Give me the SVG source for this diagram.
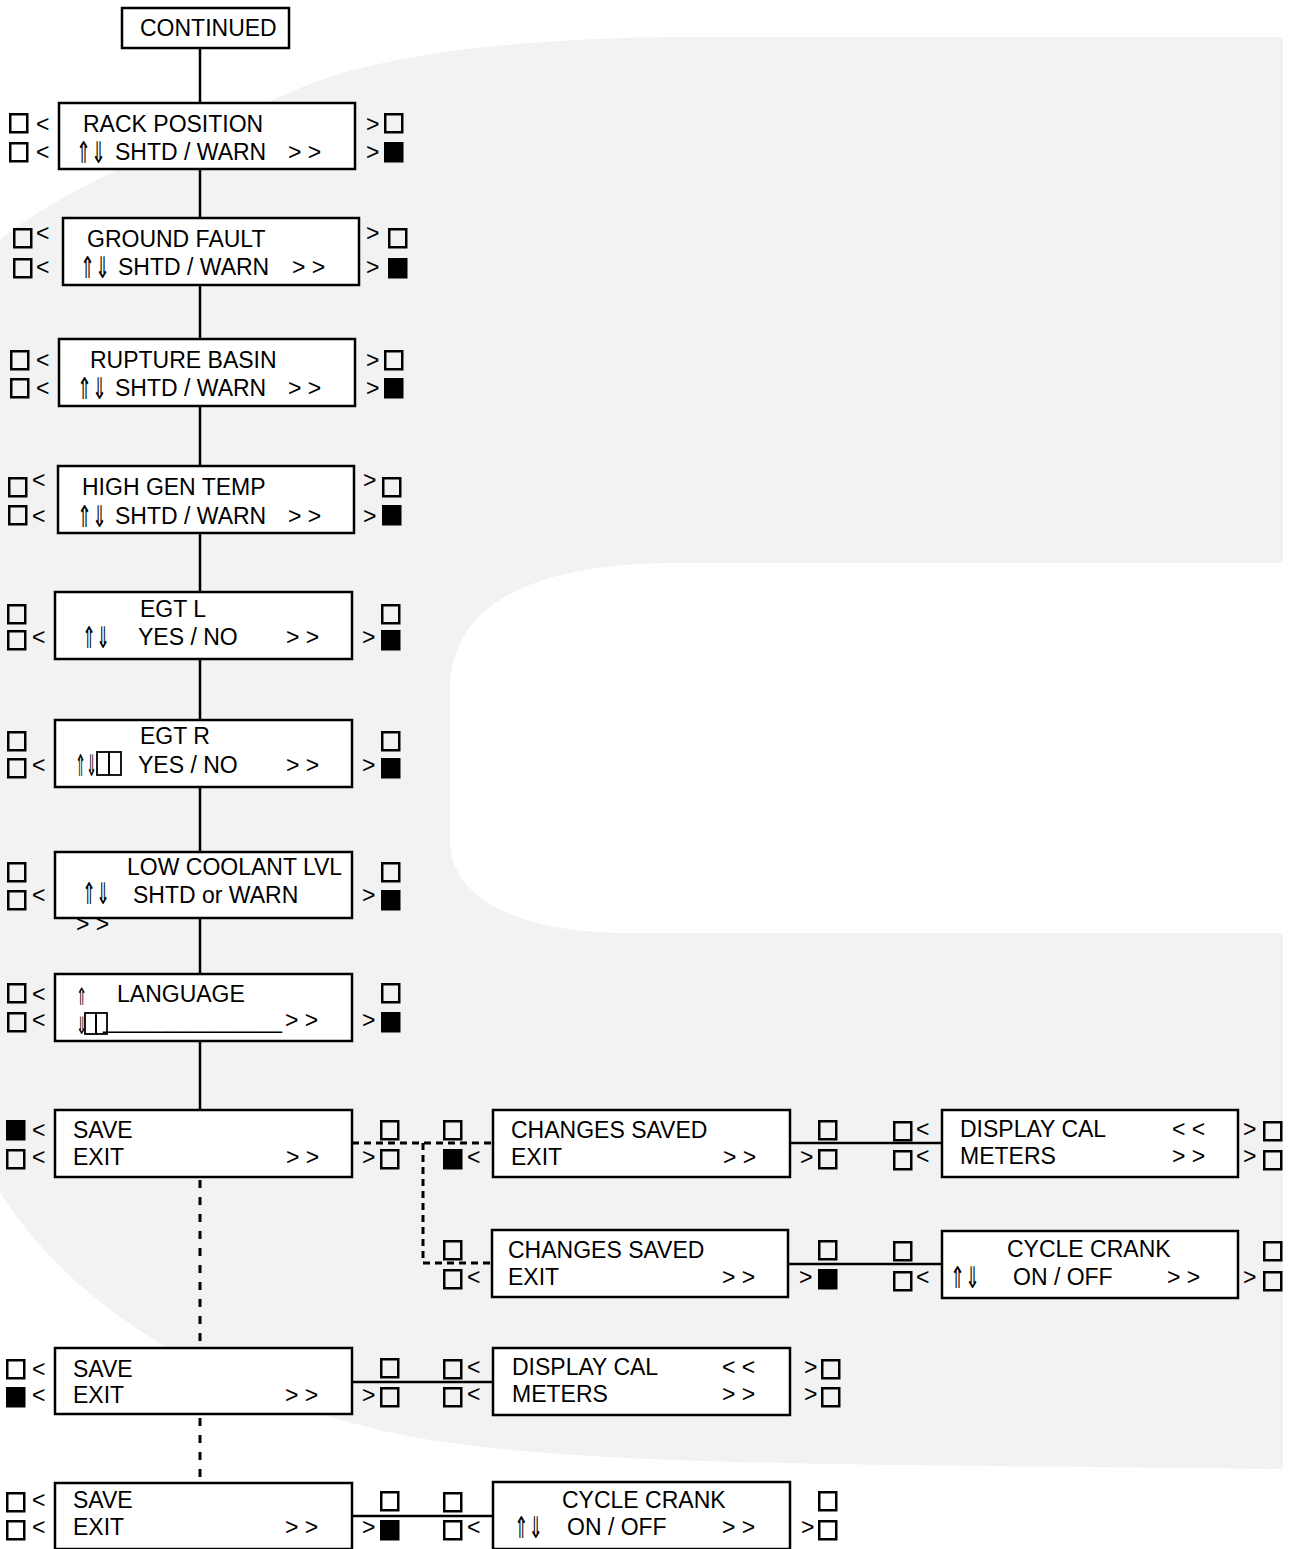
<svg xmlns="http://www.w3.org/2000/svg" xmlns:xlink="http://www.w3.org/1999/xlink" width="1300" height="1549" viewBox="0 0 1300 1549">
<style>
.bx{fill:#fff;stroke:#000;stroke-width:2.5}
.t{font-family:"Liberation Sans",Arial,sans-serif;font-size:23px;fill:#000}
.ar{font-family:"DejaVu Sans","Liberation Sans",sans-serif;font-size:30px;fill:#000}
.o{fill:none;stroke:#000;stroke-width:2.5}
.f{fill:#000;stroke:#000;stroke-width:2.5}
.tf{fill:none;stroke:#000;stroke-width:1.8}
.c{stroke:#000;stroke-width:2.5;fill:none}
.d{stroke-dasharray:8 9;stroke-width:3}
.dt{stroke-dasharray:7 5;stroke-width:3}
</style>
<defs>
<rect id="sq" x="1.25" y="1.25" width="17" height="18"/>
</defs>
<rect width="1300" height="1549" fill="#fff"/>
<g id="watermark">
<path d="M1283,37 L667,37 C500,40 380,55 300,88 C180,140 60,190 0,240 L0,1192 C60,1290 200,1400 430,1440 C600,1465 800,1464 1283,1469 Z" fill="#f2f2f2"/>
<path d="M1300,563 L667,563 C540,565 450,600 450,690 L450,840 C450,900 520,933 630,933 L1300,933 Z" fill="#fff"/>
</g>
<g id="connectors">
<line class="c" x1="200" y1="48" x2="200" y2="1110"/>
<line class="c d" x1="200" y1="1180" x2="200" y2="1348"/>
<line class="c d" x1="200" y1="1418" x2="200" y2="1483"/>
<polyline class="c dt" points="352,1143 493,1143"/>
<polyline class="c dt" points="423,1143 423,1263 492,1263"/>
<line class="c" x1="790" y1="1143" x2="942" y2="1143"/>
<line class="c" x1="788" y1="1264" x2="942" y2="1264"/>
<line class="c" x1="352" y1="1382" x2="493" y2="1382"/>
<line class="c" x1="352" y1="1516" x2="493" y2="1516"/>
</g>
<g id="continued">
<rect class="bx" x="122" y="8" width="167" height="40"/>
<text class="t" x="140" y="36">CONTINUED</text>
</g>
<g id="rack-position">
<rect class="bx" x="59" y="103" width="296" height="66"/>
<text class="t" x="83" y="132">RACK POSITION</text>
<text class="ar" transform="translate(76,163) scale(0.6,1)">⇑⇓</text>
<text class="t" x="115" y="160">SHTD / WARN</text>
<text class="t" x="288" y="160">&gt; &gt;</text>
<use href="#sq" x="9" y="113" class="o"/><text class="t" x="36" y="132">&lt;</text>
<use href="#sq" x="9" y="142" class="o"/><text class="t" x="36" y="160">&lt;</text>
<text class="t" x="366" y="132">&gt;</text><use href="#sq" x="384" y="113" class="o"/>
<text class="t" x="366" y="160">&gt;</text><use href="#sq" x="384" y="142" class="f"/>
</g>
<g id="ground-fault">
<rect class="bx" x="63" y="218" width="296" height="67"/>
<text class="t" x="87" y="247">GROUND FAULT</text>
<text class="ar" transform="translate(80,278) scale(0.6,1)">⇑⇓</text>
<text class="t" x="118" y="275">SHTD / WARN</text>
<text class="t" x="292" y="275">&gt; &gt;</text>
<use href="#sq" x="13" y="228" class="o"/><text class="t" x="36" y="241">&lt;</text>
<use href="#sq" x="13" y="258" class="o"/><text class="t" x="36" y="275">&lt;</text>
<text class="t" x="366" y="241">&gt;</text><use href="#sq" x="388" y="228" class="o"/>
<text class="t" x="366" y="275">&gt;</text><use href="#sq" x="388" y="258" class="f"/>
</g>
<g id="rupture-basin">
<rect class="bx" x="59" y="339" width="296" height="67"/>
<text class="t" x="90" y="368">RUPTURE BASIN</text>
<text class="ar" transform="translate(77,399) scale(0.6,1)">⇑⇓</text>
<text class="t" x="115" y="396">SHTD / WARN</text>
<text class="t" x="288" y="396">&gt; &gt;</text>
<use href="#sq" x="10" y="350" class="o"/><text class="t" x="36" y="368">&lt;</text>
<use href="#sq" x="10" y="378" class="o"/><text class="t" x="36" y="396">&lt;</text>
<text class="t" x="366" y="368">&gt;</text><use href="#sq" x="384" y="350" class="o"/>
<text class="t" x="366" y="396">&gt;</text><use href="#sq" x="384" y="378" class="f"/>
</g>
<g id="high-gen-temp">
<rect class="bx" x="58" y="466" width="296" height="67"/>
<text class="t" x="82" y="495">HIGH GEN TEMP</text>
<text class="ar" transform="translate(77,527) scale(0.6,1)">⇑⇓</text>
<text class="t" x="115" y="524">SHTD / WARN</text>
<text class="t" x="288" y="524">&gt; &gt;</text>
<use href="#sq" x="8" y="477" class="o"/><text class="t" x="32" y="488">&lt;</text>
<use href="#sq" x="8" y="505" class="o"/><text class="t" x="32" y="524">&lt;</text>
<text class="t" x="363" y="488">&gt;</text><use href="#sq" x="382" y="477" class="o"/>
<text class="t" x="363" y="524">&gt;</text><use href="#sq" x="382" y="505" class="f"/>
</g>
<g id="egt-l">
<rect class="bx" x="55" y="592" width="297" height="67"/>
<text class="t" x="140" y="617">EGT L</text>
<text class="ar" transform="translate(82,648) scale(0.56,1)">⇑⇓</text>
<text class="t" x="138" y="645">YES / NO</text>
<text class="t" x="286" y="645">&gt; &gt;</text>
<use href="#sq" x="7" y="604" class="o"/>
<use href="#sq" x="7" y="630" class="o"/><text class="t" x="32" y="645">&lt;</text>
<use href="#sq" x="381" y="604" class="o"/>
<text class="t" x="362" y="645">&gt;</text><use href="#sq" x="381" y="630" class="f"/>
</g>
<g id="egt-r">
<rect class="bx" x="55" y="720" width="297" height="67"/>
<text class="t" x="140" y="744">EGT R</text>
<text class="ar" transform="translate(75,776) scale(0.44,1)">⇑⇓</text>
<rect class="tf" x="97" y="752" width="12" height="23"/>
<rect class="tf" x="109" y="752" width="12" height="23"/>
<text class="t" x="138" y="773">YES / NO</text>
<text class="t" x="286" y="773">&gt; &gt;</text>
<use href="#sq" x="7" y="731" class="o"/>
<use href="#sq" x="7" y="758" class="o"/><text class="t" x="32" y="773">&lt;</text>
<use href="#sq" x="381" y="731" class="o"/>
<text class="t" x="362" y="773">&gt;</text><use href="#sq" x="381" y="758" class="f"/>
</g>
<g id="low-coolant-lvl">
<rect class="bx" x="55" y="852" width="297" height="66"/>
<text class="t" x="127" y="875">LOW COOLANT LVL</text>
<text class="ar" transform="translate(82,904) scale(0.56,1)">⇑⇓</text>
<text class="t" x="133" y="903">SHTD or WARN</text>
<text class="t" x="76" y="932">&gt; &gt;</text>
<use href="#sq" x="7" y="862" class="o"/>
<use href="#sq" x="7" y="890" class="o"/><text class="t" x="32" y="903">&lt;</text>
<use href="#sq" x="381" y="862" class="o"/>
<text class="t" x="362" y="903">&gt;</text><use href="#sq" x="381" y="890" class="f"/>
</g>
<g id="language">
<rect class="bx" x="55" y="974" width="297" height="67"/>
<text class="ar" style="font-size:24px" transform="translate(76,0) scale(0.55,1)"><tspan x="0" y="1005">⇑</tspan><tspan x="0" y="1034">⇓</tspan></text>
<text class="t" x="117" y="1002">LANGUAGE</text>
<rect class="tf" x="85" y="1013" width="11" height="21"/>
<rect class="tf" x="96" y="1013" width="11" height="21"/>
<text class="t" x="103" y="1028" textLength="179" lengthAdjust="spacingAndGlyphs">______________</text>
<text class="t" x="285" y="1028">&gt; &gt;</text>
<use href="#sq" x="7" y="983" class="o"/><text class="t" x="32" y="1002">&lt;</text>
<use href="#sq" x="7" y="1012" class="o"/><text class="t" x="32" y="1028">&lt;</text>
<use href="#sq" x="381" y="983" class="o"/>
<text class="t" x="362" y="1028">&gt;</text><use href="#sq" x="381" y="1012" class="f"/>
</g>
<g id="save-1">
<rect class="bx" x="55" y="1110" width="297" height="67"/>
<text class="t" x="73" y="1138">SAVE</text>
<text class="t" x="73" y="1165">EXIT</text>
<text class="t" x="286" y="1165">&gt; &gt;</text>
<use href="#sq" x="6" y="1120" class="f"/><text class="t" x="32" y="1138">&lt;</text>
<use href="#sq" x="6" y="1149" class="o"/><text class="t" x="32" y="1165">&lt;</text>
<use href="#sq" x="380" y="1120" class="o"/>
<text class="t" x="362" y="1165">&gt;</text><use href="#sq" x="380" y="1149" class="o"/>
</g>
<g id="changes-saved-1">
<rect class="bx" x="493" y="1110" width="297" height="67"/>
<text class="t" x="511" y="1138">CHANGES SAVED</text>
<text class="t" x="511" y="1165">EXIT</text>
<text class="t" x="723" y="1165">&gt; &gt;</text>
<use href="#sq" x="443" y="1120" class="o"/>
<use href="#sq" x="443" y="1149" class="f"/><text class="t" x="467" y="1165">&lt;</text>
<use href="#sq" x="818" y="1120" class="o"/>
<text class="t" x="800" y="1165">&gt;</text><use href="#sq" x="818" y="1149" class="o"/>
</g>
<g id="display-cal-1">
<rect class="bx" x="942" y="1110" width="296" height="67"/>
<text class="t" x="960" y="1137">DISPLAY CAL</text>
<text class="t" x="1172" y="1137">&lt; &lt;</text>
<text class="t" x="960" y="1164">METERS</text>
<text class="t" x="1172" y="1164">&gt; &gt;</text>
<use href="#sq" x="893" y="1121" class="o"/><text class="t" x="916" y="1137">&lt;</text>
<use href="#sq" x="893" y="1150" class="o"/><text class="t" x="916" y="1164">&lt;</text>
<text class="t" x="1243" y="1137">&gt;</text><use href="#sq" x="1263" y="1121" class="o"/>
<text class="t" x="1243" y="1164">&gt;</text><use href="#sq" x="1263" y="1150" class="o"/>
</g>
<g id="changes-saved-2">
<rect class="bx" x="492" y="1230" width="296" height="67"/>
<text class="t" x="508" y="1258">CHANGES SAVED</text>
<text class="t" x="508" y="1285">EXIT</text>
<text class="t" x="722" y="1285">&gt; &gt;</text>
<use href="#sq" x="443" y="1240" class="o"/>
<use href="#sq" x="443" y="1269" class="o"/><text class="t" x="467" y="1285">&lt;</text>
<use href="#sq" x="818" y="1240" class="o"/>
<text class="t" x="799" y="1285">&gt;</text><use href="#sq" x="818" y="1269" class="f"/>
</g>
<g id="cycle-crank-1">
<rect class="bx" x="942" y="1231" width="296" height="67"/>
<text class="t" x="1007" y="1257">CYCLE CRANK</text>
<text class="ar" transform="translate(950,1288) scale(0.6,1)">⇑⇓</text>
<text class="t" x="1013" y="1285">ON / OFF</text>
<text class="t" x="1167" y="1285">&gt; &gt;</text>
<use href="#sq" x="893" y="1241" class="o"/>
<use href="#sq" x="893" y="1271" class="o"/><text class="t" x="916" y="1285">&lt;</text>
<use href="#sq" x="1263" y="1241" class="o"/>
<text class="t" x="1243" y="1285">&gt;</text><use href="#sq" x="1263" y="1271" class="o"/>
</g>
<g id="save-2">
<rect class="bx" x="55" y="1348" width="297" height="66"/>
<text class="t" x="73" y="1377">SAVE</text>
<text class="t" x="73" y="1403">EXIT</text>
<text class="t" x="285" y="1403">&gt; &gt;</text>
<use href="#sq" x="6" y="1359" class="o"/><text class="t" x="32" y="1377">&lt;</text>
<use href="#sq" x="6" y="1387" class="f"/><text class="t" x="32" y="1403">&lt;</text>
<use href="#sq" x="380" y="1358" class="o"/>
<text class="t" x="362" y="1403">&gt;</text><use href="#sq" x="380" y="1387" class="o"/>
</g>
<g id="display-cal-2">
<rect class="bx" x="493" y="1348" width="297" height="67"/>
<text class="t" x="512" y="1375">DISPLAY CAL</text>
<text class="t" x="722" y="1375">&lt; &lt;</text>
<text class="t" x="512" y="1402">METERS</text>
<text class="t" x="722" y="1402">&gt; &gt;</text>
<use href="#sq" x="443" y="1359" class="o"/><text class="t" x="467" y="1375">&lt;</text>
<use href="#sq" x="443" y="1387" class="o"/><text class="t" x="467" y="1402">&lt;</text>
<text class="t" x="804" y="1375">&gt;</text><use href="#sq" x="821" y="1359" class="o"/>
<text class="t" x="804" y="1402">&gt;</text><use href="#sq" x="821" y="1387" class="o"/>
</g>
<g id="save-3">
<rect class="bx" x="55" y="1483" width="297" height="66"/>
<text class="t" x="73" y="1508">SAVE</text>
<text class="t" x="73" y="1535">EXIT</text>
<text class="t" x="285" y="1535">&gt; &gt;</text>
<use href="#sq" x="6" y="1492" class="o"/><text class="t" x="32" y="1508">&lt;</text>
<use href="#sq" x="6" y="1520" class="o"/><text class="t" x="32" y="1535">&lt;</text>
<use href="#sq" x="380" y="1491" class="o"/>
<text class="t" x="362" y="1535">&gt;</text><use href="#sq" x="380" y="1520" class="f"/>
</g>
<g id="cycle-crank-2">
<rect class="bx" x="493" y="1482" width="297" height="67"/>
<text class="t" x="562" y="1508">CYCLE CRANK</text>
<text class="ar" transform="translate(514,1538) scale(0.58,1)">⇑⇓</text>
<text class="t" x="567" y="1535">ON / OFF</text>
<text class="t" x="722" y="1535">&gt; &gt;</text>
<use href="#sq" x="443" y="1492" class="o"/>
<use href="#sq" x="443" y="1520" class="o"/><text class="t" x="467" y="1535">&lt;</text>
<use href="#sq" x="818" y="1491" class="o"/>
<text class="t" x="801" y="1535">&gt;</text><use href="#sq" x="818" y="1520" class="o"/>
</g>
</svg>
